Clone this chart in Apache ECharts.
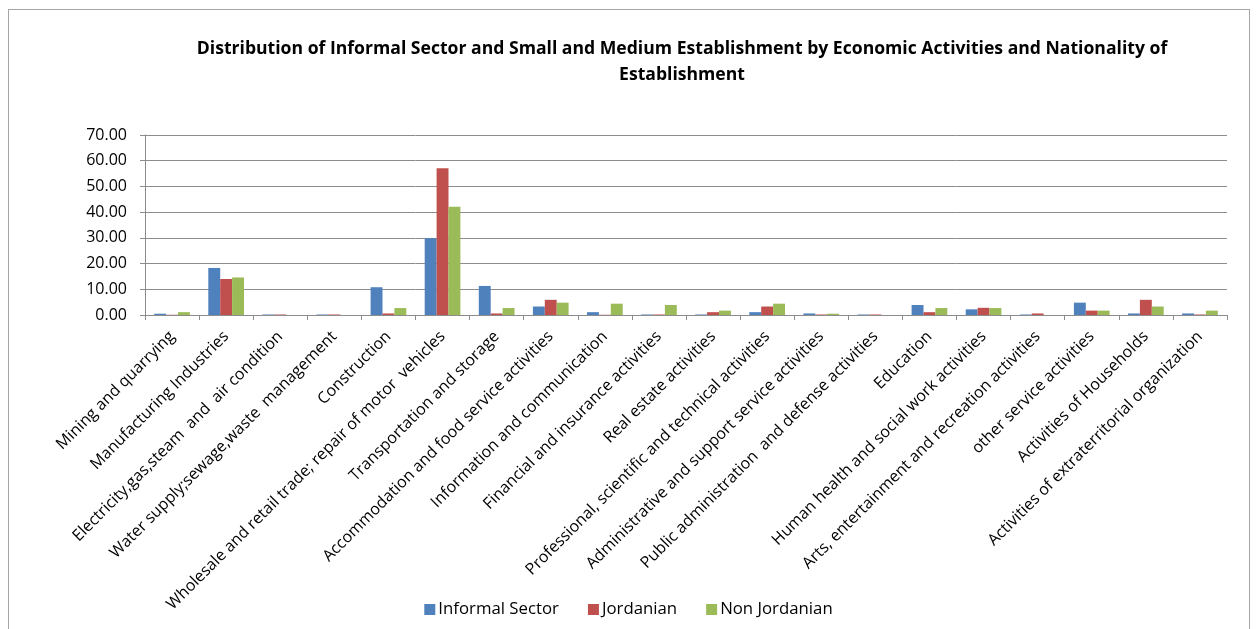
<!DOCTYPE html>
<html>
<head>
<meta charset="utf-8">
<script src="https://cdn.jsdelivr.net/npm/echarts@6/dist/echarts.min.js"></script>
<style>
  html, body { margin: 0; padding: 0; background: #ffffff; overflow: hidden; }
  #frame { position: absolute; left: 8px; top: 9px; width: 1242px; height: 700px; border: 1px solid #a6a6a6; box-sizing: border-box; }
  #chart { position: absolute; left: 0; top: 0; width: 1257px; height: 629px; }
</style>
</head>
<body>
<div id="frame"></div>
<div id="chart"></div>
<script>
// Economic activity categories
const activities = [
  'Mining and quarrying',
  'Manufacturing Industries',
  'Electricity,gas,steam  and  air condition',
  'Water supply;sewage,waste  management',
  'Construction',
  'Wholesale and retail trade; repair of motor  vehicles',
  'Transportation and storage',
  'Accommodation and food service activities',
  'Information and communication',
  'Financial and insurance activities',
  'Real estate activities',
  'Professional, scientific and technical activities',
  'Administrative and support service activities',
  'Public administration  and defense activities',
  'Education',
  'Human health and social work activities',
  'Arts, entertainment and recreation activities',
  'other service activities',
  'Activities of Households',
  'Activities of extraterritorial organization'
];

// Percentage share by nationality of establishment
const informalSector = [0.5, 18.3, 0.2, 0.2, 10.8, 29.8, 11.3, 3.3, 1.1, 0.2, 0.2, 1.1, 0.6, 0.2, 3.9, 2.2, 0.2, 4.8, 0.6, 0.6];
const jordanian      = [0.1, 14.0, 0.2, 0.2, 0.6, 57.1, 0.6, 5.9, 0.1, 0.2, 1.1, 3.3, 0.2, 0.2, 1.1, 2.8, 0.6, 1.7, 5.9, 0.2];
const nonJordanian   = [1.1, 14.6, 0, 0, 2.7, 42.1, 2.7, 4.8, 4.4, 3.9, 1.7, 4.4, 0.5, 0, 2.7, 2.7, 0, 1.7, 3.3, 1.7];

const yTicks = { min: 0, max: 70, interval: 10 };

const seriesNames = ['Informal Sector', 'Jordanian', 'Non Jordanian'];
const seriesColors = ['#4f81bd', '#c0504d', '#9bbb59'];
const seriesData = [informalSector, jordanian, nonJordanian];

const font = '"Open Sans", "Noto Sans", sans-serif';

const chart = echarts.init(document.getElementById('chart'), null, { renderer: 'canvas' });

chart.setOption({
  animation: false,
  backgroundColor: 'transparent',
  title: {
    text: 'Distribution of Informal Sector and Small and Medium Establishment by Economic Activities and Nationality of\nEstablishment',
    left: 677,
    top: 31,
    textAlign: 'center',
    textStyle: {
      fontFamily: font,
      fontSize: 17.6,
      fontWeight: 'bold',
      color: '#000000',
      lineHeight: 26
    }
  },
  legend: {
    bottom: 6,
    left: 'center',
    itemWidth: 11,
    itemHeight: 11,
    itemGap: 29,
    icon: 'rect',
    textStyle: { fontFamily: font, fontSize: 16.8, color: '#000000', padding: [0, 0, 0, -2] },
    data: seriesNames
  },
  grid: {
    left: 145,
    right: 30,
    top: 135,
    bottom: 314,
    containLabel: false
  },
  xAxis: {
    type: 'category',
    data: activities,
    axisLine: { lineStyle: { color: '#8c8c8c', width: 1 } },
    axisTick: { show: true, alignWithLabel: false, length: 5, lineStyle: { color: '#8c8c8c' } },
    axisLabel: {
      interval: 0,
      rotate: 45,
      margin: 19,
      fontFamily: font,
      fontSize: 16,
      color: '#000000'
    }
  },
  yAxis: {
    type: 'value',
    min: yTicks.min,
    max: yTicks.max,
    interval: yTicks.interval,
    axisLine: { show: true, lineStyle: { color: '#8c8c8c', width: 1 } },
    axisTick: { show: true, length: 5, inside: false, lineStyle: { color: '#8c8c8c' } },
    splitLine: { show: true, lineStyle: { color: '#8c8c8c', width: 1 } },
    axisLabel: {
      margin: 18,
      fontFamily: font,
      fontSize: 16,
      color: '#000000',
      formatter: v => v.toFixed(2)
    }
  },
  series: seriesNames.map((name, i) => ({
    name,
    type: 'bar',
    data: seriesData[i],
    barGap: '0%',
    barCategoryGap: '34%',
    itemStyle: { color: seriesColors[i] }
  }))
});
</script>
</body>
</html>
